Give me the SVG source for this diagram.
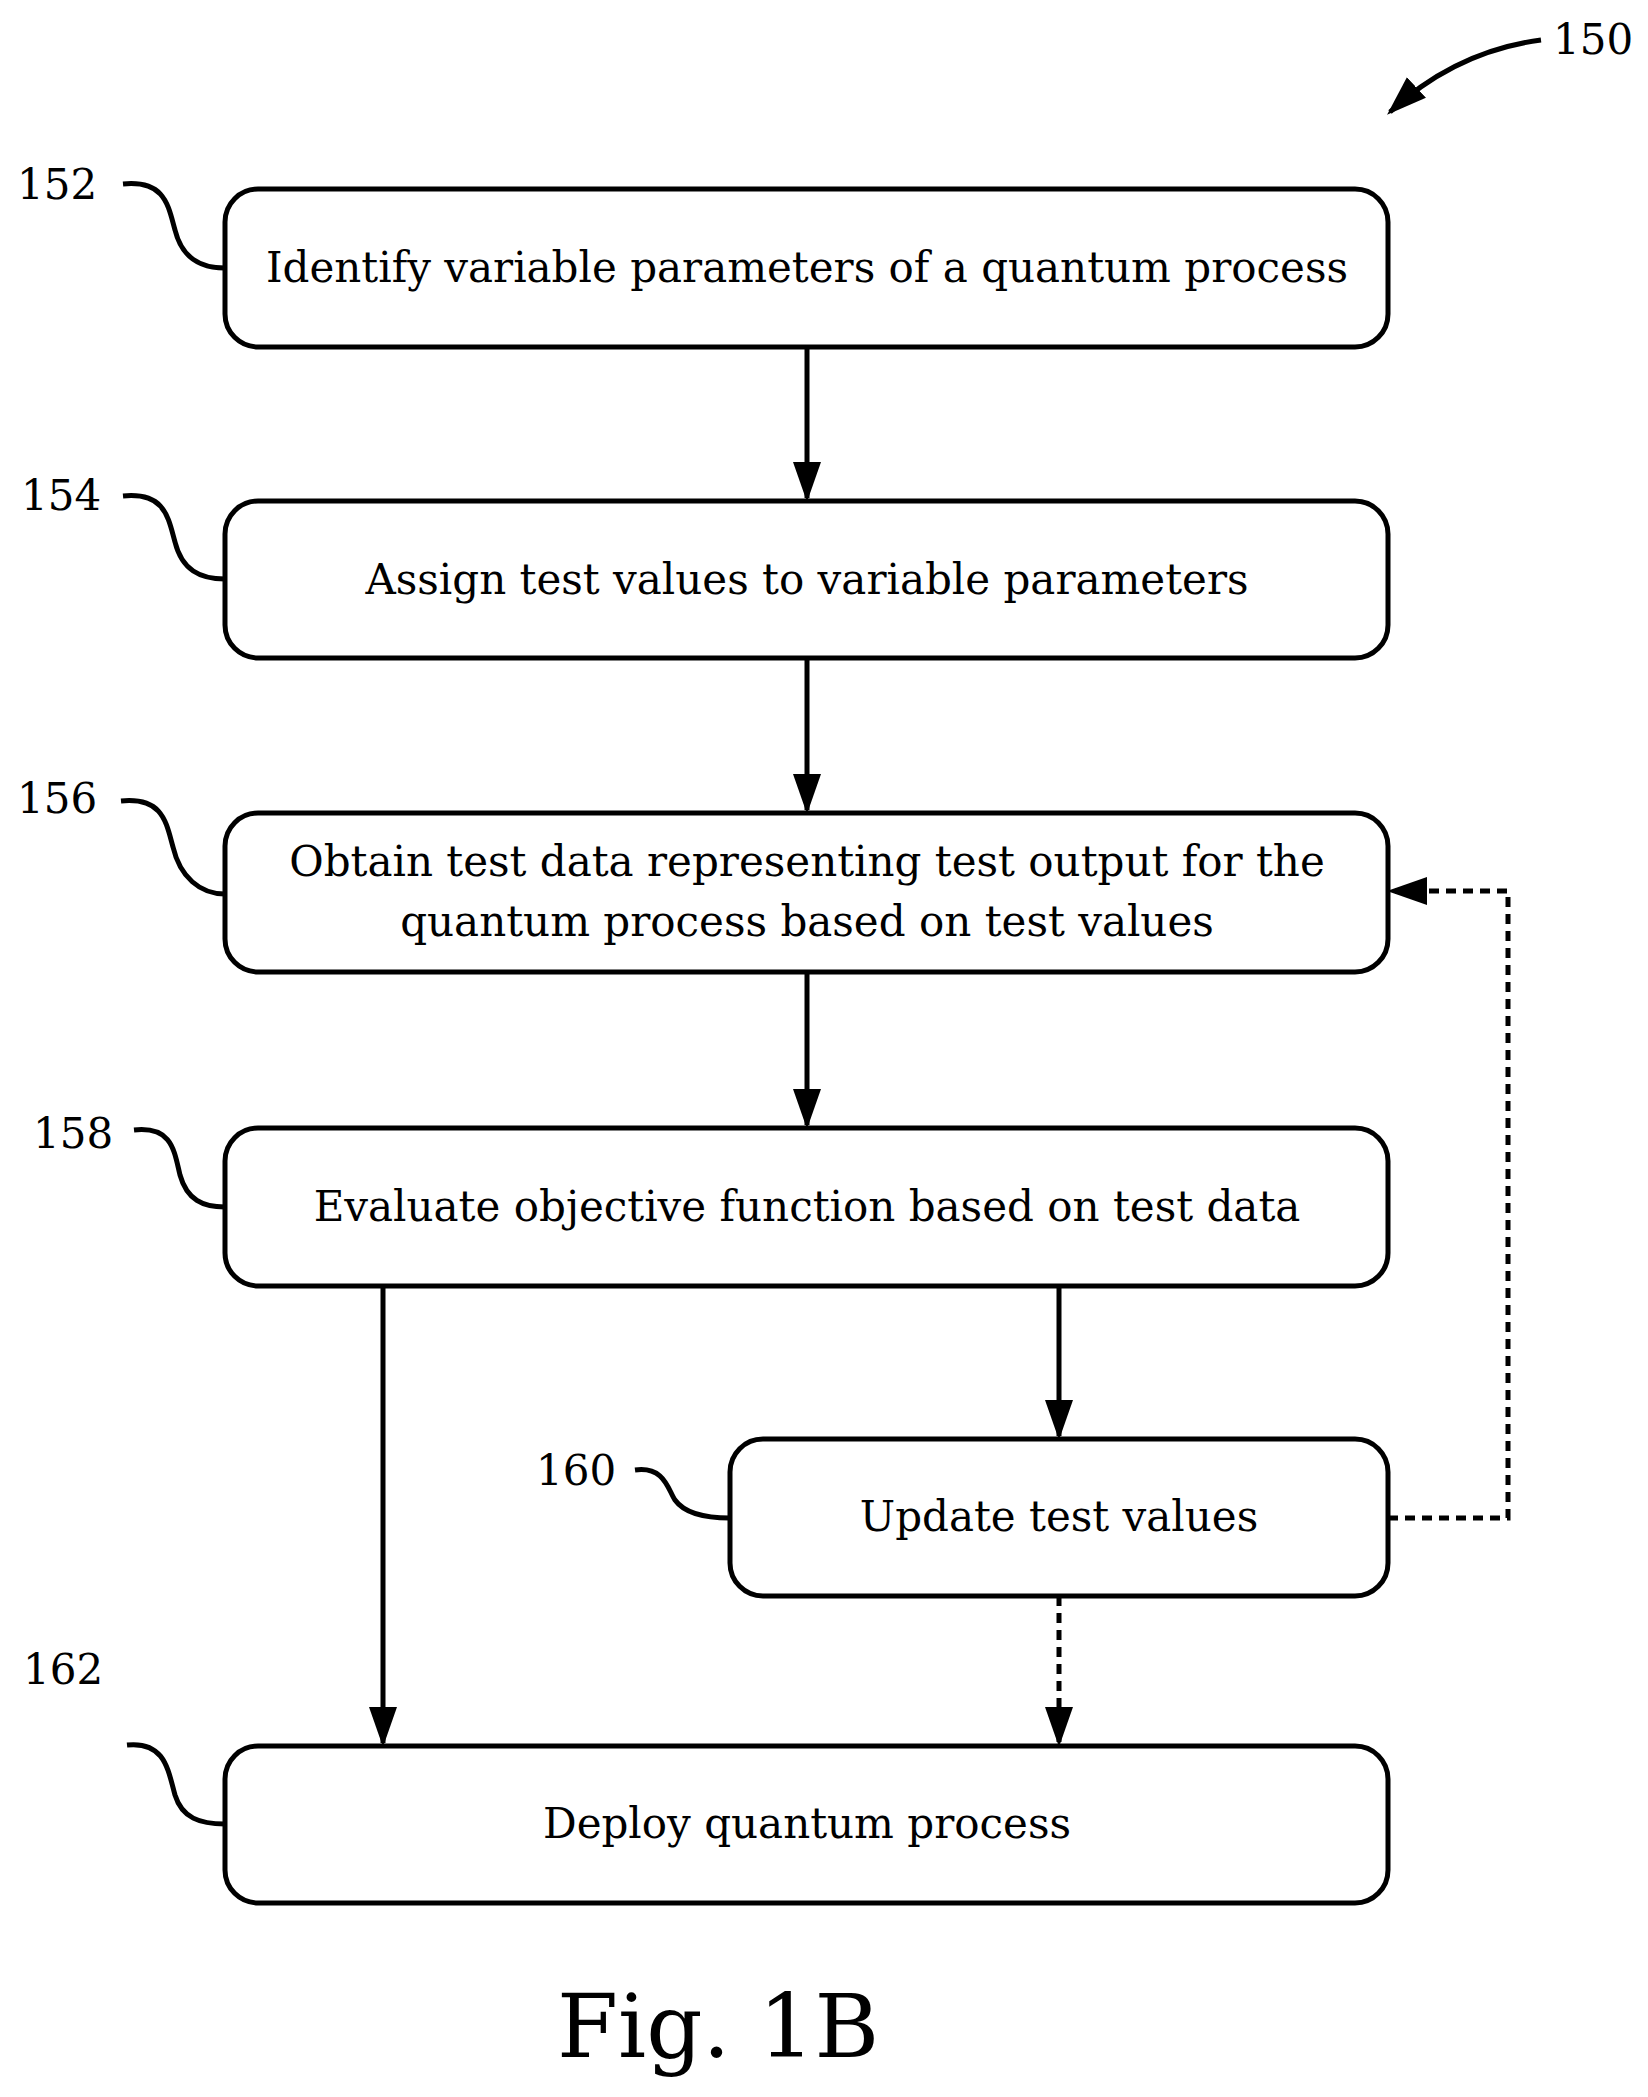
<svg xmlns="http://www.w3.org/2000/svg" width="1648" height="2097" viewBox="0 0 1648 2097">
<style>
.box{fill:#fff;stroke:#000;stroke-width:5}
.t{font-family:"DejaVu Serif","Liberation Serif",serif;font-size:42px;text-anchor:middle;fill:#000}
.n{font-family:"DejaVu Serif","Liberation Serif",serif;font-size:42px;fill:#000}
.ln{fill:none;stroke:#000;stroke-width:5}
.d{stroke-dasharray:10,7}
</style>
<defs>
<marker id="b" viewBox="0 0 10 10" refX="9" refY="5" markerWidth="40" markerHeight="40" orient="auto" markerUnits="userSpaceOnUse"><path d="M0,1.5 L10,5 L0,8.5 z"/></marker></defs>
<rect width="1648" height="2097" fill="#fff"/>
<g id="n152"><rect class="box" x="225" y="189" width="1163" height="158" rx="33"/><text class="t" x="807" y="282">Identify variable parameters of a quantum process</text></g>
<g id="n154"><rect class="box" x="225" y="501" width="1163" height="157" rx="33"/><text class="t" x="807" y="594">Assign test values to variable parameters</text></g>
<g id="n156"><rect class="box" x="225" y="813" width="1163" height="159" rx="33"/><text class="t" x="807" y="876">Obtain test data representing test output for the</text><text class="t" x="807" y="936">quantum process based on test values</text></g>
<g id="n158"><rect class="box" x="225" y="1128" width="1163" height="158" rx="33"/><text class="t" x="807" y="1221">Evaluate objective function based on test data</text></g>
<g id="n160"><rect class="box" x="730" y="1439" width="658" height="157" rx="33"/><text class="t" x="1059" y="1531">Update test values</text></g>
<g id="n162"><rect class="box" x="225" y="1746" width="1163" height="157" rx="33"/><text class="t" x="807" y="1838">Deploy quantum process</text></g>
<g id="labels">
<text class="n" x="17" y="199">152</text><text class="n" x="21" y="510">154</text><text class="n" x="17" y="813">156</text><text class="n" x="33" y="1148">158</text><text class="n" x="536" y="1485">160</text><text class="n" x="23" y="1684">162</text><text class="n" x="1553" y="54">150</text>
<text x="718" y="2057" style="font-family:'DejaVu Serif','Liberation Serif',serif;font-size:88px;text-anchor:middle">Fig. 1B</text>
</g>
<g id="connectors">
<path class="ln" d="M123,184 C165,180 168,205 175,230 C182,258 200,268 225,268"/>
<path class="ln" d="M123,496 C165,492 168,517 175,542 C182,570 200,579 225,579"/>
<path class="ln" d="M121,801 C163,797 166,822 173,847 C180,877 200,894 225,894"/>
<path class="ln" d="M134,1130 C172,1126 174,1150 180,1175 C187,1200 203,1207 225,1207"/>
<path class="ln" d="M635,1470 C665,1466 668,1490 675,1500 C685,1514 705,1518 730,1518"/>
<path class="ln" d="M127,1745 C165,1741 168,1770 175,1795 C182,1818 200,1824 225,1824"/>
<path class="ln" d="M1541,40 C1480,48 1430,75 1390,112" marker-end="url(#b)"/>
<path class="ln" d="M807,347 V498" marker-end="url(#b)"/>
<path class="ln" d="M807,658 V810" marker-end="url(#b)"/>
<path class="ln" d="M807,972 V1125" marker-end="url(#b)"/>
<path class="ln" d="M383,1286 V1743" marker-end="url(#b)"/>
<path class="ln" d="M1059,1286 V1436" marker-end="url(#b)"/>
<path class="ln d" d="M1059,1596 V1743" marker-end="url(#b)"/>
<path class="ln d" d="M1388,1518 H1508 V891 H1391" marker-end="url(#b)"/>
</g>
</svg>
